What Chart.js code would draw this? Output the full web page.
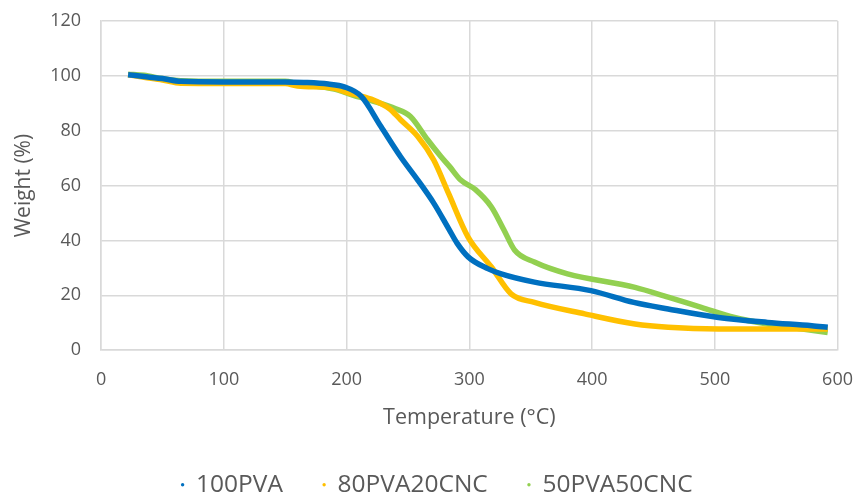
<!DOCTYPE html>
<html>
<head>
<meta charset="utf-8">
<script src="https://cdn.jsdelivr.net/npm/chart.js@4.4.1/dist/chart.umd.min.js"></script>
<style>
  html, body { margin: 0; padding: 0; background: #fff; }
  #wrap { width: 853px; height: 492px; }
</style>
</head>
<body>
<div id="wrap"><canvas id="tga"></canvas></div>
<script>
// 100PVA
const tempPVA = [22, 35, 50, 65, 100, 150, 165, 185, 198, 212, 228, 244, 258, 271, 283, 290, 299, 315, 326, 353, 399, 434, 462, 503, 543, 579, 592];
const weightPVA = [100.4, 99.8, 99, 98, 97.8, 97.8, 97.6, 97, 96, 92.5, 81.5, 70.5, 62, 53.6, 44.4, 39, 34, 29.7, 27.8, 24.8, 21.7, 17.4, 15, 11.9, 10.1, 8.9, 8.3];
// 80PVA20CNC
const temp80 = [22, 35, 50, 65, 100, 150, 160, 190, 200, 220, 235, 244, 258, 271, 283, 299, 318, 334, 353, 394, 435, 462, 503, 550, 592];
const weight80 = [100.4, 99.5, 98.5, 97.3, 97.2, 97.2, 96.3, 95.5, 94, 91.5, 88, 84, 77.9, 69.3, 57.2, 41.2, 30.3, 20.5, 17.4, 13.2, 9.5, 8.3, 7.7, 7.7, 7.7];
// 50PVA50CNC
const temp50 = [22, 35, 50, 65, 100, 150, 160, 190, 205, 220, 240, 252, 266, 277, 284, 293, 305, 318, 328, 337, 353, 380, 435, 462, 489, 516, 543, 570, 592];
const weight50 = [100.6, 100.2, 99, 98.2, 98, 98, 97.2, 95.2, 93, 91, 88, 85.2, 76.7, 70.5, 66.9, 62, 58.5, 52.2, 44, 36.4, 32.1, 27.8, 22.9, 19.3, 15.6, 11.9, 9.5, 7.8, 6.4];

const seriesNames = ['100PVA', '80PVA20CNC', '50PVA50CNC'];
const seriesColors = ['#0070c0', '#ffc000', '#92d050'];
const xTicks = [0, 100, 200, 300, 400, 500, 600];
const yTicks = [0, 20, 40, 60, 80, 100, 120];

const toPoints = (xs, ys) => xs.map((x, i) => ({ x: x, y: ys[i] }));
const allData = [toPoints(tempPVA, weightPVA), toPoints(temp80, weight80), toPoints(temp50, weight50)];

Chart.defaults.font.family = "'Open Sans', 'Liberation Sans', sans-serif";
Chart.defaults.color = '#595959';

// invisible tick marks give the label gap (ticks.padding gets counted twice)
const gridOpts = len => ({ color: '#d9d9d9', lineWidth: 1.5, drawTicks: true, tickLength: len, tickColor: 'rgba(0,0,0,0)' });

new Chart(document.getElementById('tga'), {
  type: 'scatter',
  data: {
    datasets: seriesNames.map((name, i) => ({
      label: name,
      data: allData[i],
      showLine: true,
      borderColor: seriesColors[i],
      backgroundColor: seriesColors[i],
      borderWidth: 5.5,
      pointRadius: 0,
      cubicInterpolationMode: 'monotone'
    }))
  },
  options: {
    responsive: true,
    maintainAspectRatio: false,
    animation: false,
    // legend sits very low and a bit right in the original, hence the negative paddings
    layout: { padding: { left: 11, right: -10, top: 21, bottom: -15 } },
    plugins: {
      legend: {
        position: 'bottom',
        labels: {
          usePointStyle: true,
          pointStyle: 'circle',
          boxWidth: 2.4,
          boxHeight: 2.4,
          padding: 40,
          font: { size: 24.5 },
          color: '#595959',
          generateLabels: chart => Chart.defaults.plugins.legend.labels.generateLabels(chart)
            .map(item => Object.assign(item, { lineWidth: 0 }))
        }
      },
      tooltip: { enabled: false }
    },
    scales: {
      x: {
        type: 'linear',
        min: 0,
        max: 600,
        afterBuildTicks: axis => { axis.ticks = xTicks.map(v => ({ value: v })); },
        grid: gridOpts(19),
        border: { color: '#d9d9d9', width: 1.5 },
        ticks: { font: { size: 18 }, padding: 0 },
        title: { display: true, text: 'Temperature (°C)', font: { size: 21.5 }, padding: { top: 14, bottom: 2 } }
      },
      y: {
        min: 0,
        max: 120,
        afterBuildTicks: axis => { axis.ticks = yTicks.map(v => ({ value: v })); },
        grid: gridOpts(20),
        border: { color: '#d9d9d9', width: 1.5 },
        ticks: { font: { size: 18 }, padding: 0 },
        title: { display: true, text: 'Weight (%)', font: { size: 21 }, padding: { top: 0, bottom: 14 } }
      }
    }
  }
});
</script>
</body>
</html>
